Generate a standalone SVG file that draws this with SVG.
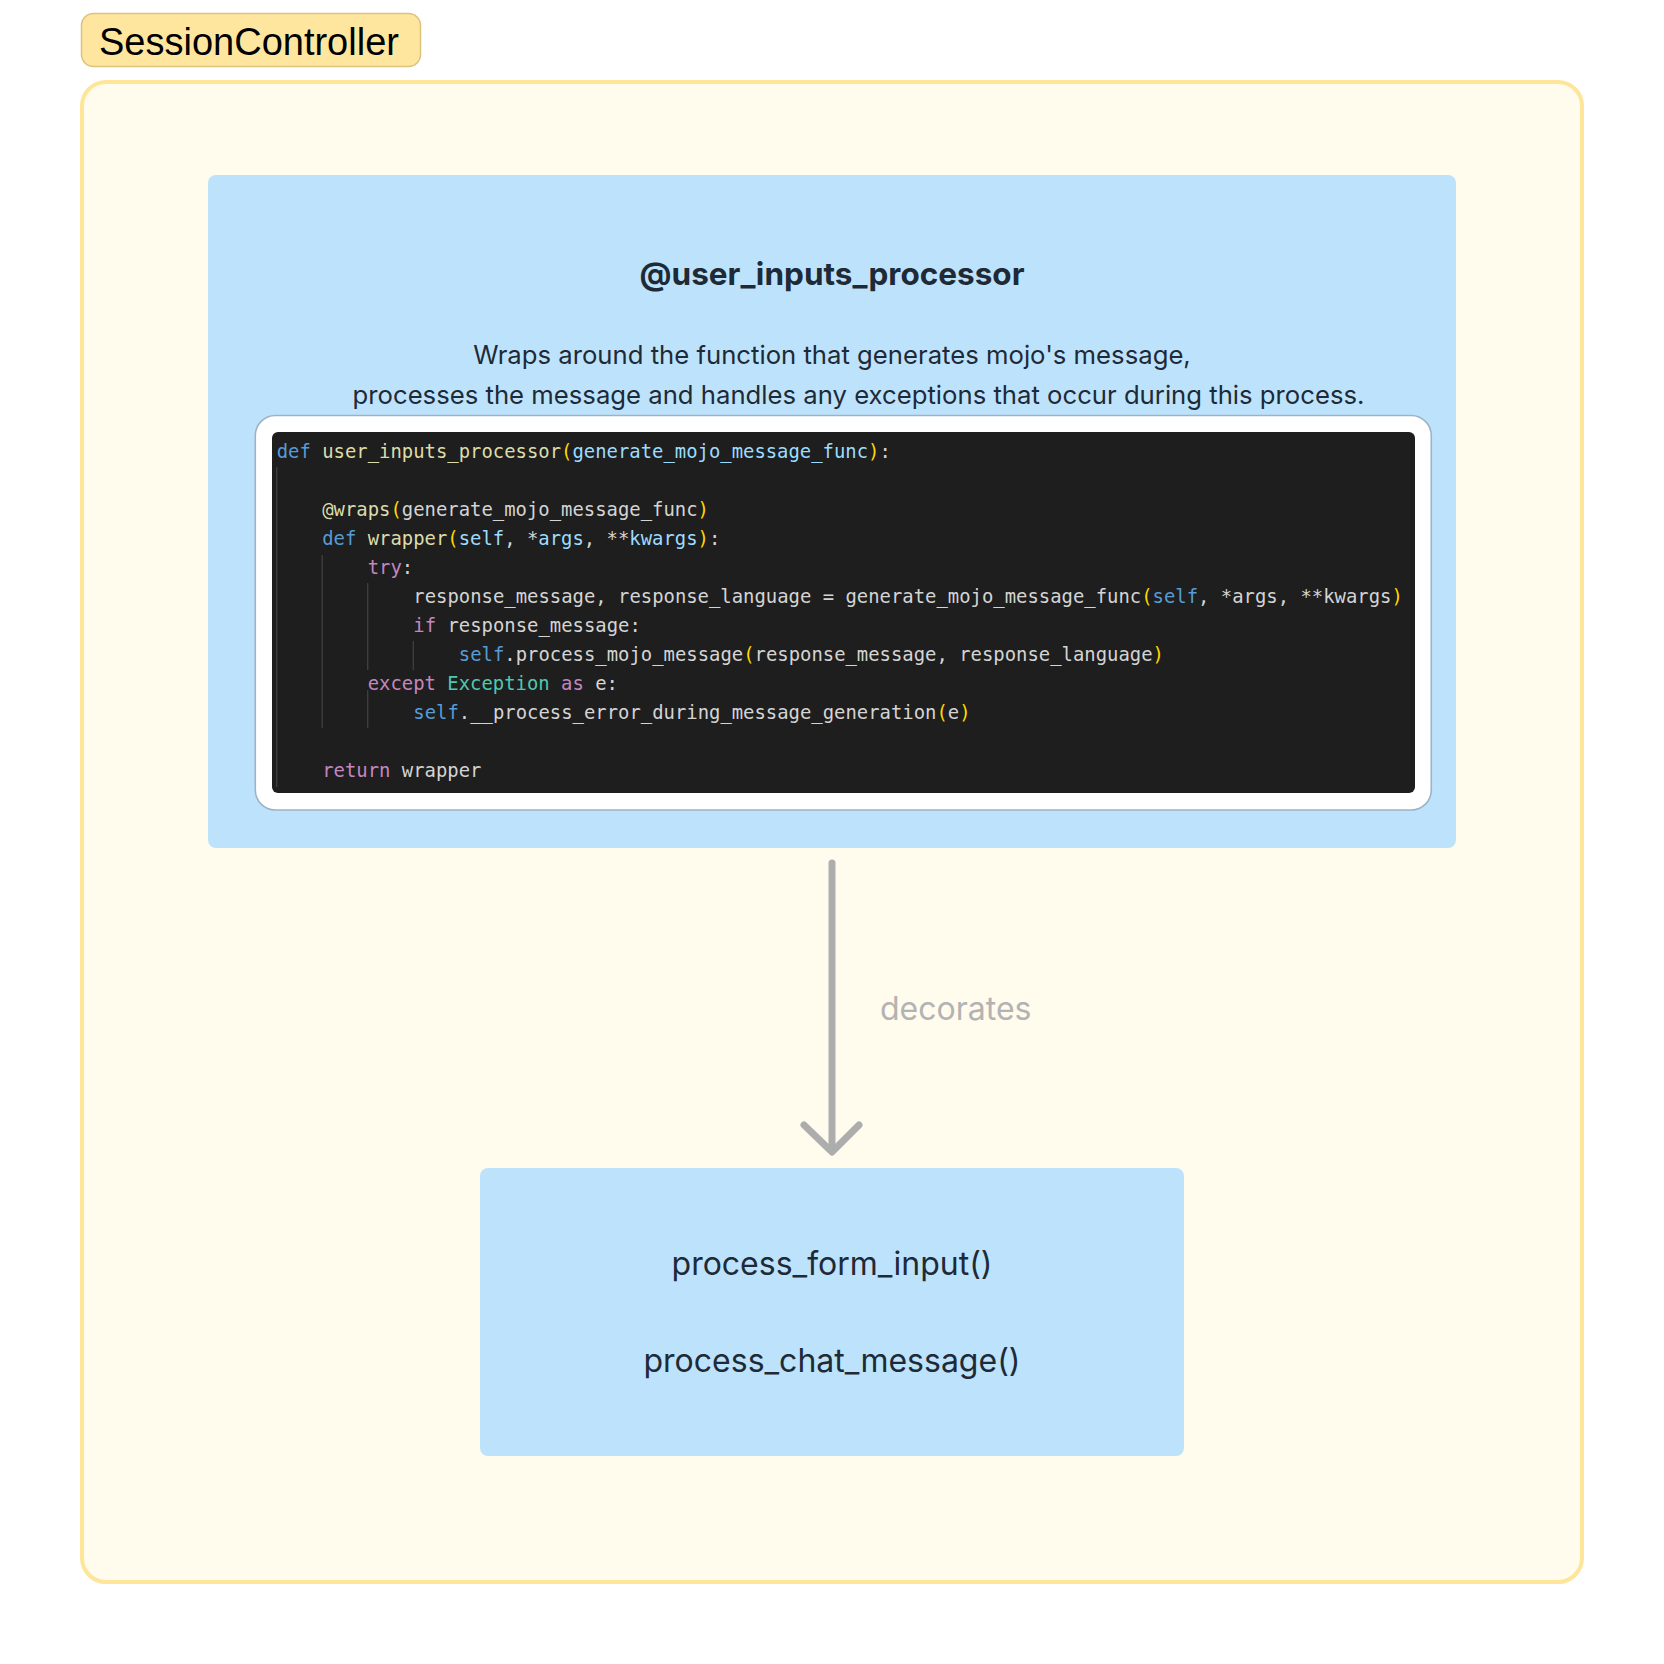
<svg xmlns="http://www.w3.org/2000/svg" width="1664" height="1664" viewBox="0 0 1664 1664">
<style>
.sans{font-family:Inter,"Noto Sans","Liberation Sans",sans-serif;fill:#1f2a37}
.code{font-family:"DejaVu Sans Mono","Liberation Mono",monospace;font-size:18.9px;fill:#d4d4d4;white-space:pre}
.kw{fill:#569cd6}.fn{fill:#dcdcaa}.br{fill:#ffd700}.pa{fill:#9cdcfe}.ct{fill:#c586c0}.cl{fill:#4ec9b0}
.guide{stroke:#404040;stroke-width:1.3}
.blue{fill:#bde3fc}
</style>
<rect width="1664" height="1664" fill="#ffffff"/>
<g id="session-controller">
<rect x="82" y="82" width="1500" height="1500" rx="24" fill="#fffcee" stroke="#ffe59a" stroke-width="4"/>
<rect x="81.5" y="13.5" width="339" height="53" rx="12" fill="#ffe69e" stroke="#dcc27c" stroke-width="1.5"/>
<text x="99" y="55" font-family="'Liberation Sans',Arial,sans-serif" font-size="38" fill="#000">SessionController</text>
</g>
<g id="decorator-node">
<rect class="blue" x="208" y="175" width="1248" height="673" rx="8"/>
<text class="sans" x="832" y="285" text-anchor="middle" font-size="31.5" font-weight="700">@user_inputs_processor</text>
<text class="sans" x="832" y="364" text-anchor="middle" font-size="25.7">Wraps around the function that generates mojo's message,</text>
<text class="sans" x="858.5" y="404" text-anchor="middle" font-size="25.7">processes the message and handles any exceptions that occur during this process.</text>
<rect x="255.3" y="415.5" width="1176" height="394.5" rx="20" fill="#ffffff" stroke="#9eb2c6" stroke-width="1.6"/>
<rect x="272" y="432" width="1143" height="361" rx="6" fill="#1e1e1e"/>
<g>
<line class="guide" x1="276.7" y1="467" x2="276.7" y2="787"/>
<line class="guide" x1="322.2" y1="555" x2="322.2" y2="728"/>
<line class="guide" x1="367.7" y1="583" x2="367.7" y2="670"/>
<line class="guide" x1="367.7" y1="690" x2="367.7" y2="728"/>
<line class="guide" x1="413.3" y1="641" x2="413.3" y2="670"/>
</g>
<g xml:space="preserve">
<text class="code" x="276.7" y="458"><tspan class="kw">def</tspan> <tspan class="fn">user_inputs_processor</tspan><tspan class="br">(</tspan><tspan class="pa">generate_mojo_message_func</tspan><tspan class="br">)</tspan>:</text>
<text class="code" x="322.2" y="516"><tspan class="fn">@wraps</tspan><tspan class="br">(</tspan>generate_mojo_message_func<tspan class="br">)</tspan></text>
<text class="code" x="322.2" y="545"><tspan class="kw">def</tspan> <tspan class="fn">wrapper</tspan><tspan class="br">(</tspan><tspan class="pa">self</tspan>, *<tspan class="pa">args</tspan>, **<tspan class="pa">kwargs</tspan><tspan class="br">)</tspan>:</text>
<text class="code" x="367.7" y="574"><tspan class="ct">try</tspan>:</text>
<text class="code" x="413.3" y="603">response_message, response_language = generate_mojo_message_func<tspan class="br">(</tspan><tspan class="kw">self</tspan>, *args, **kwargs<tspan class="br">)</tspan></text>
<text class="code" x="413.3" y="632"><tspan class="ct">if</tspan> response_message:</text>
<text class="code" x="458.8" y="661"><tspan class="kw">self</tspan>.process_mojo_message<tspan class="br">(</tspan>response_message, response_language<tspan class="br">)</tspan></text>
<text class="code" x="367.7" y="690"><tspan class="ct">except</tspan> <tspan class="cl">Exception</tspan> <tspan class="ct">as</tspan> e:</text>
<text class="code" x="413.3" y="719"><tspan class="kw">self</tspan>.__process_error_during_message_generation<tspan class="br">(</tspan>e<tspan class="br">)</tspan></text>
<text class="code" x="322.2" y="777"><tspan class="ct">return</tspan> wrapper</text>
</g>
</g>
<g id="decorated-node">
<rect class="blue" x="480" y="1168" width="704" height="288" rx="8"/>
<text class="sans" x="832" y="1275" text-anchor="middle" font-size="32">process_form_input()</text>
<text class="sans" x="832" y="1371.7" text-anchor="middle" font-size="32">process_chat_message()</text>
</g>
<g id="connectors" fill="none" stroke="#adadad" stroke-width="7" stroke-linecap="round" stroke-linejoin="round">
<line x1="832" y1="863" x2="832" y2="1150"/>
<polyline points="804,1125 832,1152 859,1125"/>
<text x="880" y="1020" font-family="Inter,'Noto Sans',sans-serif" font-size="32" fill="#b3b3b3" stroke="none">decorates</text>
</g>
</svg>
